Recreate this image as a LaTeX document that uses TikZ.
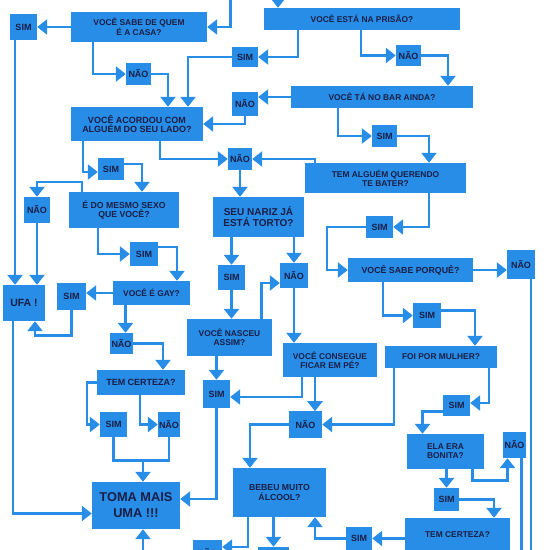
\documentclass[tikz,border=0pt]{standalone}
\usepackage{fontspec}
\setmainfont{Liberation Sans}
\usepackage{xcolor}
\usepackage{tikz}
\usetikzlibrary{arrows.meta,positioning,calc}

\definecolor{boxblue}{RGB}{40,141,230}
\definecolor{inkblue}{RGB}{25,30,70}

\begin{document}
\begin{tikzpicture}[
    x=1pt, y=-1pt,
    quest/.style={fill=boxblue, text=inkblue, align=center, inner sep=1pt, font=\fontsize{8.4}{8.8}\selectfont\bfseries},
    answer/.style={quest, font=\fontsize{9}{10}\selectfont\bfseries},
    link/.style={line width=2.6pt, draw=boxblue},
    arrow/.style={link, -{Triangle[width=15pt,length=10pt]}}
]
\useasboundingbox (0,0) rectangle (550,550);
\clip (0,0) rectangle (550,550);
\coordinate (topedge) at (0,-15);
\coordinate (botedge) at (0,565);

\node[quest, minimum width=136pt, minimum height=30pt] (casa) at (139,27) {VOCÊ SABE DE QUEM\\É A CASA?};
\node[answer, minimum width=27pt, minimum height=26pt] (simA) at (23.5,27) {SIM};
\node[answer, minimum width=25pt, minimum height=22pt] (naoA) at (138.5,74) {NÃO};
\node[quest, minimum width=196pt, minimum height=22pt] (prisao) at (362,19) {VOCÊ ESTÁ NA PRISÃO?};
\node[answer, minimum width=26pt, minimum height=20pt] (simB) at (245,57) {SIM};
\node[answer, minimum width=25pt, minimum height=21pt] (naoB) at (408.5,55.5) {NÃO};
\node[quest, minimum width=182pt, minimum height=22pt] (bar) at (382,97) {VOCÊ TÁ NO BAR AINDA?};
\node[answer, minimum width=26pt, minimum height=24pt] (naoC) at (245,104) {NÃO};
\node[quest, minimum width=132pt, minimum height=34pt, font=\fontsize{9}{9.8}\selectfont\bfseries] (acordou) at (137,124) {VOCÊ ACORDOU COM\\ALGUÉM DO SEU LADO?};
\node[answer, minimum width=25pt, minimum height=22pt] (simC) at (384.5,136) {SIM};
\node[quest, minimum width=161pt, minimum height=30pt] (bater) at (385.5,178) {TEM ALGUÉM QUERENDO\\TE BATER?};
\node[answer, minimum width=24pt, minimum height=22pt] (naoD) at (240,159) {NÃO};
\node[answer, minimum width=26pt, minimum height=22pt] (simD) at (111,169) {SIM};
\node[quest, minimum width=110pt, minimum height=36pt, font=\fontsize{8.7}{9.2}\selectfont\bfseries] (sexo) at (124,210) {É DO MESMO SEXO\\QUE VOCÊ?};
\node[answer, minimum width=26pt, minimum height=26pt] (naoE) at (37,210) {NÃO};
\node[quest, minimum width=42pt, minimum height=36pt, font=\fontsize{10.5}{11}\selectfont\bfseries] (ufa) at (24,303) {UFA !};
\node[answer, minimum width=28pt, minimum height=24pt] (simE) at (144,254) {SIM};
\node[quest, minimum width=77pt, minimum height=24pt] (gay) at (151.5,293) {VOCÊ É GAY?};
\node[answer, minimum width=29pt, minimum height=27pt] (simF) at (71.5,296.5) {SIM};
\node[answer, minimum width=23pt, minimum height=21pt] (naoF) at (121.5,343.5) {NÃO};
\node[quest, minimum width=88pt, minimum height=25pt, font=\fontsize{9}{10}\selectfont\bfseries] (certezaA) at (141,382.5) {TEM CERTEZA?};
\node[answer, minimum width=27pt, minimum height=25pt] (simG) at (113.5,424.5) {SIM};
\node[answer, minimum width=22pt, minimum height=25pt] (naoG) at (169,424.5) {NÃO};
\node[quest, minimum width=88pt, minimum height=47pt, font=\fontsize{12.8}{16}\selectfont\bfseries] (toma) at (136,505.5) {TOMA MAIS\\UMA !!!};
\node[quest, minimum width=91pt, minimum height=40pt, font=\fontsize{10}{11}\selectfont\bfseries] (nariz) at (258.5,217) {SEU NARIZ JÁ\\ESTÁ TORTO?};
\node[answer, minimum width=27pt, minimum height=25pt] (simH) at (231.5,277.5) {SIM};
\node[answer, minimum width=28pt, minimum height=25pt] (naoH) at (294,275.5) {NÃO};
\node[quest, minimum width=85pt, minimum height=37pt] (nasceu) at (229.5,337.5) {VOCÊ NASCEU\\ASSIM?};
\node[answer, minimum width=27pt, minimum height=28pt] (simI) at (216.5,394) {SIM};
\node[quest, minimum width=94pt, minimum height=34pt] (consegue) at (330,360) {VOCÊ CONSEGUE\\FICAR EM PÉ?};
\node[answer, minimum width=33pt, minimum height=27pt] (naoI) at (305.5,424.5) {NÃO};
\node[quest, minimum width=93pt, minimum height=49pt, font=\fontsize{8.7}{9.5}\selectfont\bfseries] (bebeu) at (279.5,492.5) {BEBEU MUITO\\ÁLCOOL?};
\node[answer, minimum width=27pt, minimum height=22pt] (simJ) at (379.5,227) {SIM};
\node[quest, minimum width=125pt, minimum height=24pt, font=\fontsize{8.8}{9.5}\selectfont\bfseries] (porque) at (410.5,270) {VOCÊ SABE PORQUÊ?};
\node[answer, minimum width=28pt, minimum height=29pt] (naoJ) at (521,264.5) {NÃO};
\node[answer, minimum width=28pt, minimum height=25pt] (simK) at (427,315.5) {SIM};
\node[quest, minimum width=112pt, minimum height=22pt] (mulher) at (441,357) {FOI POR MULHER?};
\node[answer, minimum width=27pt, minimum height=21pt] (simL) at (456.5,405.5) {SIM};
\node[quest, minimum width=77pt, minimum height=35pt] (bonita) at (445.5,451.5) {ELA ERA\\BONITA?};
\node[answer, minimum width=23pt, minimum height=26pt] (naoK) at (514.5,445) {NÃO};
\node[answer, minimum width=25pt, minimum height=23pt] (simM) at (446.5,499.5) {SIM};
\node[quest, minimum width=105pt, minimum height=34pt] (certezaB) at (457.5,535) {TEM CERTEZA?};
\node[answer, minimum width=26pt, minimum height=23pt] (simN) at (359,538.5) {SIM};
\node[answer, minimum width=29pt, minimum height=26pt] (cutA) at (207.5,553) {NÃO};
\node[answer, minimum width=31pt, minimum height=26pt] (cutB) at (273.5,560) {};

\draw[arrow] ([xshift=23pt]casa.east |- topedge) |- (casa.east);
\draw[arrow] (casa.west) -- (casa.west -| simA.east);
\draw[arrow] ([xshift=-9pt]ufa.north |- simA.south) -- ([xshift=-9pt]ufa.north);
\draw[arrow] ([xshift=-46pt]casa.south) |- (naoA.west);
\draw[arrow] (naoA.east) -| ([xshift=31pt]acordou.north);
\draw[arrow] ([xshift=-84pt]prisao.north |- topedge) -- ([xshift=-84pt]prisao.north);
\draw[arrow] ([xshift=-64pt]prisao.south) |- (simB.east);
\draw[arrow] (simB.west) -| ([xshift=51pt]acordou.north);
\draw[arrow] ([xshift=-1pt]prisao.south) |- (naoB.west);
\draw[arrow] (naoB.east) -| ([xshift=66pt]bar.north);
\draw[arrow] (bar.west) -- (bar.west -| naoC.east);
\draw[arrow] (naoC.south) |- (acordou.east);
\draw[arrow] ([xshift=-44pt]bar.south) |- (simC.west);
\draw[arrow] (simC.east) -| ([xshift=43.5pt]bater.north);
\draw[arrow] ([xshift=-70.5pt]bater.north) |- (naoD.east);
\draw[arrow] ([xshift=23pt]acordou.south) |- (naoD.west);
\draw[arrow] ([xshift=-54pt]acordou.south) |- ([yshift=-3pt]simD.west);
\draw[arrow] ([yshift=5pt]simD.east) -| ([xshift=18pt]sexo.north);
\draw[arrow] ([xshift=-42pt]sexo.north) -- ++(0,-10) -| (naoE.north);
\draw[arrow] (naoE.south) -- (naoE.south |- ufa.north);
\draw[arrow] ([xshift=-26pt]sexo.south) |- (simE.west);
\draw[arrow] ([yshift=7pt]simE.east) -| ([xshift=25.5pt]gay.north);
\draw[arrow] (gay.west) -- (gay.west -| simF.east);
\draw[arrow] (simF.south) -- ++(0,25) -| ([xshift=11pt]ufa.south);
\draw[arrow] ([xshift=-26pt]gay.south) -- ([xshift=-26pt]gay.south |- naoF.north);
\draw[arrow] (naoF.east) -| ([xshift=22pt]certezaA.north);
\draw[arrow] (certezaA.west) -- ++(-10,0) |- (simG.west);
\draw[arrow] ([xshift=-1pt]certezaA.south) |- (naoG.west);
\draw[link] (simG.south) -- ++(0,23) coordinate (jn) -| (naoG.south);
\draw[arrow] ([xshift=7pt]toma.north |- jn) -- ([xshift=7pt]toma.north);
\draw[arrow] ([xshift=-11pt]ufa.south) |- ([yshift=-8pt]toma.west);
\draw[arrow] ([xshift=7pt]toma.south |- botedge) -- ([xshift=7pt]toma.south);
\draw[arrow] (naoD.south) -- (naoD.south |- nariz.north);
\draw[arrow] (simH.north |- nariz.south) -- (simH.north);
\draw[arrow] (naoH.north |- nariz.south) -- (naoH.north);
\draw[arrow] (simH.south) -- (simH.south |- nasceu.north);
\draw[arrow] ([xshift=32pt]nasceu.north) |- ([yshift=-7.5pt]naoH.west);
\draw[arrow] (simI.north |- nasceu.south) -- (simI.north);
\draw[arrow] (simI.south) |- ([yshift=6.5pt]toma.east);
\draw[arrow] (naoH.south) -- (naoH.south |- consegue.north);
\draw[arrow] ([xshift=-28pt]consegue.south) |- ([yshift=-3pt]simI.east);
\draw[arrow] ([xshift=-15pt]consegue.south) -- ++(0,34);
\draw[arrow] ([xshift=-47pt]mulher.south) |- (naoI.east);
\draw[arrow] (naoI.west) -| ([xshift=-29.5pt]bebeu.north);
\draw[arrow] (cutB.north |- bebeu.south) -- (cutB.north);
\draw[arrow] ([xshift=-31.5pt]bebeu.south) |- ([yshift=6pt]cutA.east);
\draw[arrow] ([xshift=43.5pt]bater.south) |- (simJ.east);
\draw[arrow] (simJ.west) -- ++(-39,0) |- (porque.west);
\draw[arrow] (porque.east) -- (porque.east -| naoJ.west);
\draw[link] ([xshift=10pt]naoJ.south) -- ([xshift=10pt]naoJ.south |- botedge);
\draw[arrow] ([xshift=-27.5pt]porque.south) |- (simK.west);
\draw[arrow] ([yshift=5pt]simK.east) -| ([xshift=34pt]mulher.north);
\draw[arrow] ([xshift=48pt]mulher.south) |- ([yshift=2.5pt]simL.east);
\draw[arrow] ([yshift=-6pt]simL.west) -| ([xshift=-23pt]bonita.north);
\draw[arrow] (simM.north |- bonita.south) -- (simM.north);
\draw[arrow] ([xshift=27pt]bonita.south) -- ++(0,11) -| ([xshift=-7pt]naoK.south);
\draw[link] ([xshift=7pt]naoK.south) -- ([xshift=7pt]naoK.south |- botedge);
\draw[arrow] (simM.east) -| ([xshift=36.5pt]certezaB.north);
\draw[arrow] (certezaB.west |- simN.east) -- (simN.east);
\draw[arrow] (simN.west) -| ([xshift=35.5pt]bebeu.south);

\end{tikzpicture}
\end{document}
